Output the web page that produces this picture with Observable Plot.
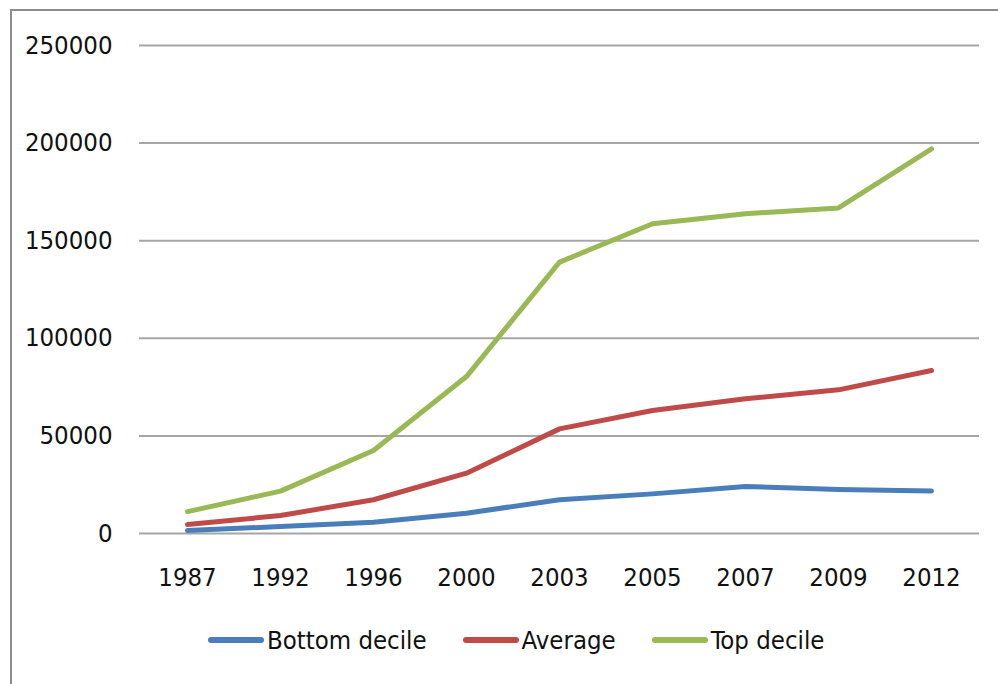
<!DOCTYPE html>
<html>
<head>
<meta charset="utf-8">
<script src="https://cdn.jsdelivr.net/npm/d3@7"></script>
<script src="https://cdn.jsdelivr.net/npm/@observablehq/plot@0.6"></script>
<style>
  html, body { margin: 0; padding: 0; background: #fff; overflow: hidden; }
  #wrap { position: relative; width: 998px; height: 684px; }
  #frame { position: absolute; left: 10px; top: 9px; width: 1100px; height: 800px;
           border: 2.5px solid #8c8c8c; box-sizing: border-box; }
  #chart { position: absolute; left: 0; top: 0; }
  #legend { position: absolute; left: 208px; top: 625px; display: flex; align-items: center;
            font-family: "DejaVu Sans Condensed", "DejaVu Sans", sans-serif;
            font-size: 25.5px; color: #111; }
  .item { display: flex; align-items: center; margin-right: 36px; }
  .sw { width: 56px; height: 6px; border-radius: 3px; margin-right: 3px; }
</style>
</head>
<body>
<div id="wrap">
  <div id="frame"></div>
  <div id="chart"></div>
  <div id="legend"></div>
</div>
<script>
const years = ["1987","1992","1996","2000","2003","2005","2007","2009","2012"];
const seriesNames = ["Bottom decile", "Average", "Top decile"];
const bottomDecile = [1500, 3600, 5800, 10400, 17300, 20300, 24100, 22500, 21800];
const average = [4600, 9200, 17300, 30900, 53600, 63000, 69000, 73600, 83500];
const topDecile = [11200, 21700, 42500, 80400, 139000, 158700, 163800, 166800, 197000];
const yTicks = [0, 50000, 100000, 150000, 200000, 250000];
const colors = ["#4a7ebb", "#be4b48", "#98b954"];

const valueSets = [bottomDecile, average, topDecile];
const data = [];
seriesNames.forEach((s, i) => years.forEach((yr, j) => data.push({series: s, year: yr, value: valueSets[i][j]})));

const chart = Plot.plot({
  width: 998,
  height: 610,
  marginLeft: 139,
  marginRight: 19,
  marginTop: 45,
  marginBottom: 77,
  style: {fontFamily: '"DejaVu Sans Condensed", "DejaVu Sans", sans-serif', fontSize: "25.5px", color: "#111", background: "transparent"},
  x: {type: "point", domain: years, padding: 0.5},
  y: {domain: [0, 250000]},
  color: {domain: seriesNames, range: colors},
  marks: [
    Plot.ruleY(yTicks, {stroke: "#a6a6a6", strokeWidth: 2, strokeOpacity: 1}),
    Plot.axisY({ticks: yTicks, tickSize: 0, tickPadding: 27, tickFormat: d => String(d), label: null}),
    Plot.axisX({tickSize: 0, tickPadding: 34, label: null}),
    Plot.line(data, {x: "year", y: "value", z: "series", stroke: "series", strokeWidth: 5, strokeLinejoin: "round", strokeLinecap: "round"})
  ]
});
document.getElementById("chart").appendChild(chart);

const legend = document.getElementById("legend");
seriesNames.forEach((s, i) => {
  const it = document.createElement("div");
  it.className = "item";
  const sw = document.createElement("div");
  sw.className = "sw";
  sw.style.background = colors[i];
  const t = document.createElement("span");
  t.textContent = s;
  it.appendChild(sw);
  it.appendChild(t);
  legend.appendChild(it);
});
</script>
</body>
</html>
